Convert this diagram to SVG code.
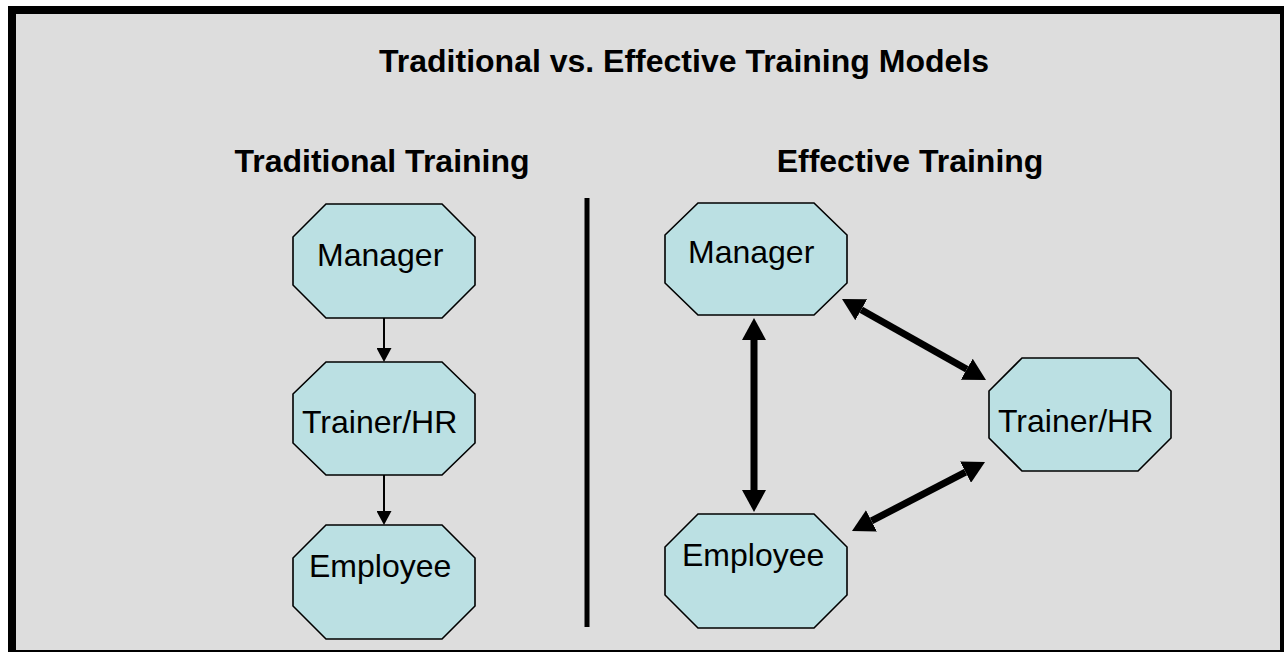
<svg xmlns="http://www.w3.org/2000/svg" width="1284" height="652" viewBox="0 0 1284 652">
  <style>
    .node { fill: #BBE0E3; stroke: #000; stroke-width: 1.6; stroke-linejoin: miter; }
    .label { font-family: "Liberation Sans", Arial, sans-serif; font-size: 32px; fill: #000; }
    .title { font-family: "Liberation Sans", Arial, sans-serif; font-size: 32px; font-weight: bold; fill: #000; }
    .thin { stroke: #000; stroke-width: 2; fill: none; }
    .thick { stroke: #000; stroke-width: 7; fill: none; }
  </style>
  <defs>
    <marker id="headSmall" markerUnits="userSpaceOnUse" markerWidth="14" markerHeight="15" refX="0" refY="7.5" orient="auto">
      <path d="M0,0 L14,7.5 L0,15 z" fill="#000"/>
    </marker>
    <marker id="headBig" markerUnits="userSpaceOnUse" markerWidth="22" markerHeight="24" refX="0" refY="12" orient="auto-start-reverse">
      <path d="M0,0 L22,12 L0,24 z" fill="#000"/>
    </marker>
  </defs>

  <!-- panel with heavy frame -->
  <rect x="12" y="10" width="1272" height="644" fill="#DDDDDD" stroke="#000" stroke-width="8"/>

  <text class="title" x="684" y="72" text-anchor="middle">Traditional vs. Effective Training Models</text>
  <text class="title" x="382" y="172" text-anchor="middle">Traditional Training</text>
  <text class="title" x="910" y="172" text-anchor="middle">Effective Training</text>

  <!-- divider between the two models -->
  <line x1="587" y1="198" x2="587" y2="627" stroke="#000" stroke-width="5"/>

  <g id="connectors">
    <line class="thin" x1="384" y1="318" x2="384" y2="348" marker-end="url(#headSmall)"/>
    <line class="thin" x1="384" y1="475" x2="384" y2="511" marker-end="url(#headSmall)"/>
    <line class="thick" x1="754" y1="340" x2="754" y2="490" marker-start="url(#headBig)" marker-end="url(#headBig)"/>
    <line class="thick" x1="861.2" y1="309.8" x2="966.8" y2="369.2" marker-start="url(#headBig)" marker-end="url(#headBig)"/>
    <line class="thick" x1="871.5" y1="520.9" x2="965.5" y2="472.1" marker-start="url(#headBig)" marker-end="url(#headBig)"/>
  </g>

  <g id="trad-manager">
    <polygon class="node" points="326,204 442,204 475,237 475,285 442,318 326,318 293,285 293,237"/>
    <text class="label" x="317" y="266">Manager</text>
  </g>
  <g id="trad-trainer">
    <polygon class="node" points="326,362 442,362 475,394 475,443 442,475 326,475 293,443 293,394"/>
    <text class="label" x="302" y="433">Trainer/HR</text>
  </g>
  <g id="trad-employee">
    <polygon class="node" points="326,525 442,525 475,558 475,606 442,639 326,639 293,606 293,558"/>
    <text class="label" x="309" y="577">Employee</text>
  </g>

  <g id="eff-manager">
    <polygon class="node" points="698,203 814,203 847,235 847,283 814,315 698,315 665,283 665,235"/>
    <text class="label" x="688" y="263">Manager</text>
  </g>
  <g id="eff-employee">
    <polygon class="node" points="698,514 814,514 847,547 847,595 814,628 698,628 665,595 665,547"/>
    <text class="label" x="682" y="566">Employee</text>
  </g>
  <g id="eff-trainer">
    <polygon class="node" points="1022,358 1138,358 1171,391 1171,438 1138,471 1022,471 989,438 989,391"/>
    <text class="label" x="998" y="432">Trainer/HR</text>
  </g>
</svg>
